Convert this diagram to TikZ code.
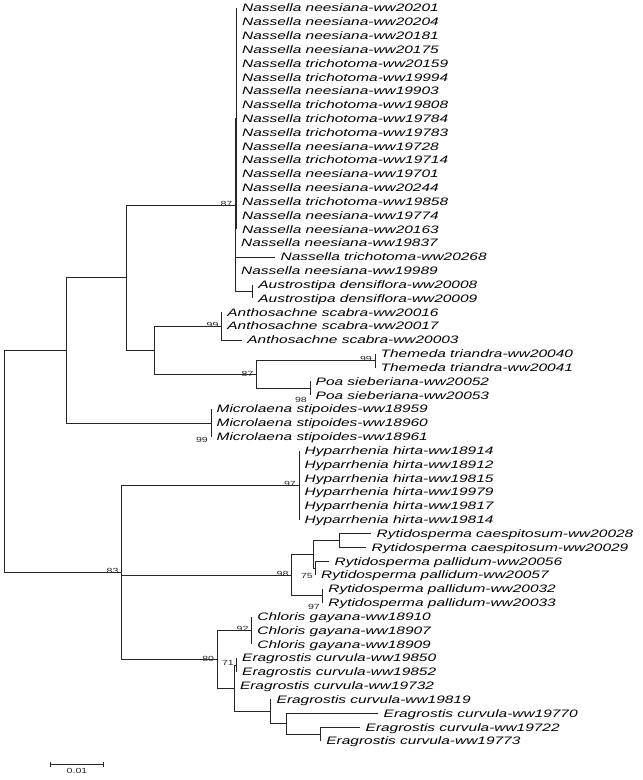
\documentclass[tikz,border=0pt]{standalone}
\usepackage{fontspec}
\usepackage{graphicx}
\setmainfont{Liberation Sans}
\newcommand{\sx}[1]{\scalebox{1.43}[1]{#1}}
\begin{document}
\begin{tikzpicture}[x=1pt,y=-1pt,
  leaf/.style={anchor=west,inner xsep=5.5pt,inner ysep=0pt,text height=7.7pt,text depth=0pt,font=\itshape\fontsize{10.8}{12}\selectfont},
  boot/.style={inner sep=0pt,text=black!85,font=\fontsize{7.4}{9}\selectfont},
  br/.style={draw=black!85,line width=0.8pt}]
\useasboundingbox[fill=white] (0,0) rectangle (643,780);
% leaves
\node[leaf] (l1) at (236.5,8) {\sx{Nassella neesiana-ww20201}};
\node[leaf] (l2) at (236.5,21.83) {\sx{Nassella neesiana-ww20204}};
\node[leaf] (l3) at (236.5,35.66) {\sx{Nassella neesiana-ww20181}};
\node[leaf] (l4) at (236.5,49.49) {\sx{Nassella neesiana-ww20175}};
\node[leaf] (l5) at (236.5,63.32) {\sx{Nassella trichotoma-ww20159}};
\node[leaf] (l6) at (236.5,77.15) {\sx{Nassella trichotoma-ww19994}};
\node[leaf] (l7) at (236.5,90.98) {\sx{Nassella neesiana-ww19903}};
\node[leaf] (l8) at (236.5,104.81) {\sx{Nassella trichotoma-ww19808}};
\node[leaf] (l9) at (236.5,118.64) {\sx{Nassella trichotoma-ww19784}};
\node[leaf] (l10) at (236.5,132.47) {\sx{Nassella trichotoma-ww19783}};
\node[leaf] (l11) at (236.5,146.3) {\sx{Nassella neesiana-ww19728}};
\node[leaf] (l12) at (236.5,160.13) {\sx{Nassella trichotoma-ww19714}};
\node[leaf] (l13) at (236.5,173.96) {\sx{Nassella neesiana-ww19701}};
\node[leaf] (l14) at (236.5,187.79) {\sx{Nassella neesiana-ww20244}};
\node[leaf] (l15) at (236.5,201.62) {\sx{Nassella trichotoma-ww19858}};
\node[leaf] (l16) at (236.5,215.45) {\sx{Nassella neesiana-ww19774}};
\node[leaf] (l17) at (236.5,229.28) {\sx{Nassella neesiana-ww20163}};
\node[leaf] (l18) at (235.5,243.11) {\sx{Nassella neesiana-ww19837}};
\node[leaf] (l19) at (275,256.94) {\sx{Nassella trichotoma-ww20268}};
\node[leaf] (l20) at (235.5,270.77) {\sx{Nassella neesiana-ww19989}};
\node[leaf] (l21) at (252.7,284.6) {\sx{Austrostipa densiflora-ww20008}};
\node[leaf] (l22) at (252.7,298.43) {\sx{Austrostipa densiflora-ww20009}};
\node[leaf] (l23) at (221.7,312.26) {\sx{Anthosachne scabra-ww20016}};
\node[leaf] (l24) at (221.7,326.09) {\sx{Anthosachne scabra-ww20017}};
\node[leaf] (l25) at (241.7,339.92) {\sx{Anthosachne scabra-ww20003}};
\node[leaf] (l26) at (375,353.75) {\sx{Themeda triandra-ww20040}};
\node[leaf] (l27) at (375,367.58) {\sx{Themeda triandra-ww20041}};
\node[leaf] (l28) at (310,381.41) {\sx{Poa sieberiana-ww20052}};
\node[leaf] (l29) at (310,395.24) {\sx{Poa sieberiana-ww20053}};
\node[leaf] (l30) at (211,409.07) {\sx{Microlaena stipoides-ww18959}};
\node[leaf] (l31) at (211,422.9) {\sx{Microlaena stipoides-ww18960}};
\node[leaf] (l32) at (211,436.73) {\sx{Microlaena stipoides-ww18961}};
\node[leaf] (l33) at (299,450.56) {\sx{Hyparrhenia hirta-ww18914}};
\node[leaf] (l34) at (299,464.39) {\sx{Hyparrhenia hirta-ww18912}};
\node[leaf] (l35) at (299,478.22) {\sx{Hyparrhenia hirta-ww19815}};
\node[leaf] (l36) at (299,492.05) {\sx{Hyparrhenia hirta-ww19979}};
\node[leaf] (l37) at (299,505.88) {\sx{Hyparrhenia hirta-ww19817}};
\node[leaf] (l38) at (299,519.71) {\sx{Hyparrhenia hirta-ww19814}};
\node[leaf] (l39) at (371,533.54) {\sx{Rytidosperma caespitosum-ww20028}};
\node[leaf] (l40) at (366,547.37) {\sx{Rytidosperma caespitosum-ww20029}};
\node[leaf] (l41) at (329,561.2) {\sx{Rytidosperma pallidum-ww20056}};
\node[leaf] (l42) at (315.5,575.03) {\sx{Rytidosperma pallidum-ww20057}};
\node[leaf] (l43) at (322.7,588.86) {\sx{Rytidosperma pallidum-ww20032}};
\node[leaf] (l44) at (322.7,602.69) {\sx{Rytidosperma pallidum-ww20033}};
\node[leaf] (l45) at (251.7,616.52) {\sx{Chloris gayana-ww18910}};
\node[leaf] (l46) at (251.7,630.35) {\sx{Chloris gayana-ww18907}};
\node[leaf] (l47) at (251.7,644.18) {\sx{Chloris gayana-ww18909}};
\node[leaf] (l48) at (236.5,658.01) {\sx{Eragrostis curvula-ww19850}};
\node[leaf] (l49) at (236.5,671.84) {\sx{Eragrostis curvula-ww19852}};
\node[leaf] (l50) at (234.3,685.67) {\sx{Eragrostis curvula-ww19732}};
\node[leaf] (l51) at (271,699.5) {\sx{Eragrostis curvula-ww19819}};
\node[leaf] (l52) at (378,713.33) {\sx{Eragrostis curvula-ww19770}};
\node[leaf] (l53) at (360,727.16) {\sx{Eragrostis curvula-ww19722}};
\node[leaf] (l54) at (320.7,740.99) {\sx{Eragrostis curvula-ww19773}};
% internal nodes
\coordinate (Gp) at (236.5,118.64);
\coordinate (Au) at (252.7,291.5);
\coordinate (F) at (235.5,205.07);
\coordinate (An) at (221.7,326.09);
\coordinate (Th) at (375,360.67);
\coordinate (Po) at (310,388.33);
\coordinate (E) at (256.7,374.5);
\coordinate (D) at (154.3,350.3);
\coordinate (C) at (126,277.68);
\coordinate (Mi) at (211,422.9);
\coordinate (B) at (66.7,350.29);
\coordinate (Hy) at (299,485.14);
\coordinate (Q) at (339.3,540.46);
\coordinate (R) at (315.5,568.12);
\coordinate (P) at (313.3,554.29);
\coordinate (S) at (322.7,595.78);
\coordinate (O) at (291.7,575.03);
\coordinate (Ch) at (251.7,630.35);
\coordinate (K) at (236.5,664.93);
\coordinate (N) at (320.7,734.08);
\coordinate (M) at (286,723.7);
\coordinate (L) at (270,711.6);
\coordinate (J) at (234.3,688.27);
\coordinate (I) at (217.3,659.31);
\coordinate (H) at (121.7,572.2);
\coordinate (Rt) at (4.5,461.25);
% branches
\foreach \c in {B,H} \draw[br] (Rt) |- (\c);
\foreach \c in {C,Mi} \draw[br] (B) |- (\c);
\foreach \c in {F,D} \draw[br] (C) |- (\c);
\foreach \c in {Gp,l18,l19,l20,Au} \draw[br] (F) |- (\c);
\foreach \i in {1,...,17} \draw[br] (Gp) |- (l\i.west);
\foreach \c in {l21,l22} \draw[br] (Au) |- (\c.west);
\foreach \c in {An,E} \draw[br] (D) |- (\c);
\foreach \c in {l23,l24,l25} \draw[br] (An) |- (\c.west);
\foreach \c in {Th,Po} \draw[br] (E) |- (\c);
\foreach \c in {l26,l27} \draw[br] (Th) |- (\c.west);
\foreach \c in {l28,l29} \draw[br] (Po) |- (\c.west);
\foreach \c in {l30,l31,l32} \draw[br] (Mi) |- (\c.west);
\foreach \c in {Hy,O,I} \draw[br] (H) |- (\c);
\foreach \i in {33,...,38} \draw[br] (Hy) |- (l\i.west);
\foreach \c in {P,S} \draw[br] (O) |- (\c);
\foreach \c in {Q,R} \draw[br] (P) |- (\c);
\foreach \c in {l39,l40} \draw[br] (Q) |- (\c.west);
\foreach \c in {l41,l42} \draw[br] (R) |- (\c.west);
\foreach \c in {l43,l44} \draw[br] (S) |- (\c.west);
\foreach \c in {Ch,J} \draw[br] (I) |- (\c);
\foreach \c in {l45,l46,l47} \draw[br] (Ch) |- (\c.west);
\foreach \c in {K,l50,L} \draw[br] (J) |- (\c);
\foreach \c in {l48,l49} \draw[br] (K) |- (\c.west);
\foreach \c in {l51,M} \draw[br] (L) |- (\c);
\foreach \c in {l52,N} \draw[br] (M) |- (\c);
\foreach \c in {l53,l54} \draw[br] (N) |- (\c.west);
% bootstrap values
\node[boot,anchor=south east] (bF) at ([xshift=-3pt,yshift=-1.5pt]F) {\sx{87}};
\node[boot,anchor=south east] (bAn) at ([xshift=-3pt,yshift=-1.5pt]An) {\sx{99}};
\node[boot,anchor=north east] (bE) at ([xshift=-3pt,yshift=3pt]E) {\sx{87}};
\node[boot,anchor=south east] (bTh) at ([xshift=-3pt,yshift=-1.5pt]Th) {\sx{99}};
\node[boot,anchor=east] (bPo) at (307,399.5) {\sx{98}};
\node[boot,anchor=east] (bMi) at (208,440) {\sx{99}};
\node[boot,anchor=south east] (bHy) at ([xshift=-3pt,yshift=-1.5pt]Hy) {\sx{97}};
\node[boot,anchor=south east] (bO) at ([xshift=-3pt,yshift=-1.5pt]O) {\sx{98}};
\node[boot,anchor=east] (bR) at (313,576) {\sx{75}};
\node[boot,anchor=east] (bS) at (320,606.5) {\sx{97}};
\node[boot,anchor=north east] (bH) at ([xshift=-3pt,yshift=4pt]H) {\sx{83}};
\node[boot,anchor=south east] (bCh) at ([xshift=-3pt,yshift=-1pt]Ch) {\sx{92}};
\node[boot,anchor=north east] (bI) at ([xshift=-3pt,yshift=3pt]I) {\sx{80}};
\node[boot,anchor=south east] (bK) at ([xshift=-2.5pt,yshift=-1pt]K) {\sx{71}};
% scale bar
\coordinate (s1) at (50.7,764);
\coordinate (s2) at (103.3,764);
\draw[br] (s1) -- (s2);
\draw[br] ([yshift=-2.5pt]s1) -- ([yshift=2.5pt]s1);
\draw[br] ([yshift=-2.5pt]s2) -- ([yshift=2.5pt]s2);
\node[boot,anchor=north] (sl) at (77,768.5) {\sx{0.01}};
\end{tikzpicture}
\end{document}
